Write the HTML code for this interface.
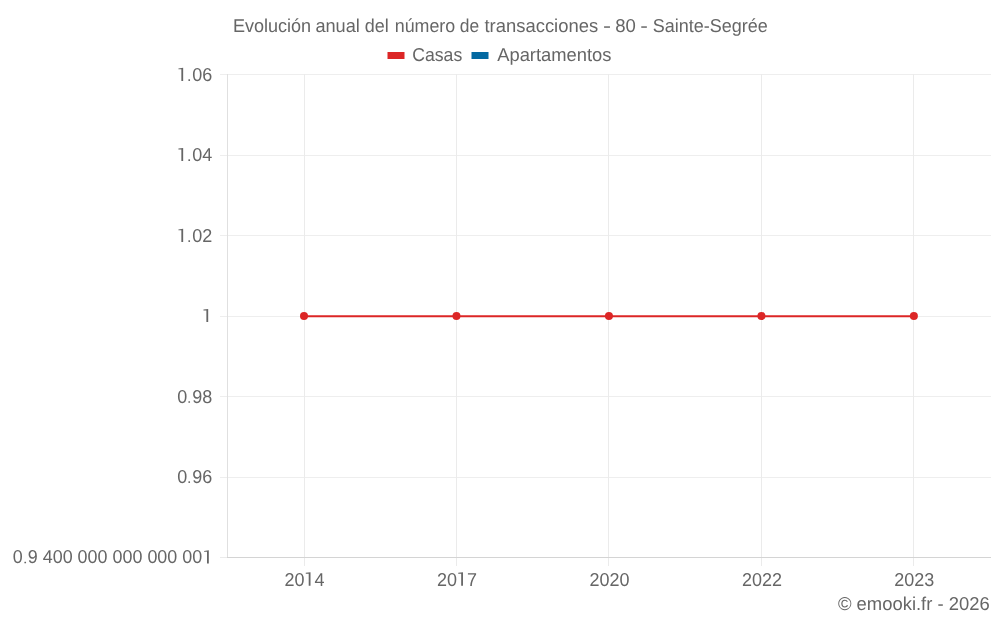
<!DOCTYPE html>
<html><head><meta charset="utf-8">
<style>
html,body{margin:0;padding:0;background:#fff;width:1000px;height:625px;overflow:hidden}
svg{display:block;will-change:transform}
text{font-family:"Liberation Sans",sans-serif;fill:#666;font-size:18.6px;text-rendering:geometricPrecision}
.o{fill-opacity:0;stroke-opacity:0}
</style></head>
<body>
<svg width="1000" height="625" viewBox="0 0 1000 625">
<g>
<line x1="220" y1="74.5" x2="991" y2="74.5" stroke="#eeeeee"/>
<line x1="220" y1="155.5" x2="991" y2="155.5" stroke="#eeeeee"/>
<line x1="220" y1="235.5" x2="991" y2="235.5" stroke="#eeeeee"/>
<line x1="220" y1="316.5" x2="991" y2="316.5" stroke="#eeeeee"/>
<line x1="220" y1="396.5" x2="991" y2="396.5" stroke="#eeeeee"/>
<line x1="220" y1="477.5" x2="991" y2="477.5" stroke="#eeeeee"/>
<line x1="304.5" y1="74" x2="304.5" y2="566" stroke="#ebebeb"/>
<line x1="456.5" y1="74" x2="456.5" y2="566" stroke="#ebebeb"/>
<line x1="608.5" y1="74" x2="608.5" y2="566" stroke="#ebebeb"/>
<line x1="761.5" y1="74" x2="761.5" y2="566" stroke="#ebebeb"/>
<line x1="913.5" y1="74" x2="913.5" y2="566" stroke="#ebebeb"/>
<line x1="220" y1="557.5" x2="227" y2="557.5" stroke="#ebebeb"/>
<line x1="227.5" y1="74" x2="227.5" y2="558" stroke="#e0e0e0"/>
<line x1="227" y1="557.5" x2="991" y2="557.5" stroke="#d4d4d4"/>
</g>
<g>
<line x1="304.00" y1="316.2" x2="913.88" y2="316.2" stroke="#dc2626" stroke-width="2"/>
<circle cx="304.00" cy="316.1" r="4.0" fill="#dc2626"/>
<circle cx="456.47" cy="316.1" r="4.0" fill="#dc2626"/>
<circle cx="608.94" cy="316.1" r="4.0" fill="#dc2626"/>
<circle cx="761.41" cy="316.1" r="4.0" fill="#dc2626"/>
<circle cx="913.88" cy="316.1" r="4.0" fill="#dc2626"/>
</g>
<g>
<text x="232.93" y="31.60" textLength="78.24" lengthAdjust="spacingAndGlyphs">Evolución</text>
<text x="315.38" y="31.60" textLength="44.44" lengthAdjust="spacingAndGlyphs">anual</text>
<text x="364.82" y="31.60" textLength="23.98" lengthAdjust="spacingAndGlyphs">del</text>
<text x="394.74" y="31.60" textLength="60.51" lengthAdjust="spacingAndGlyphs">número</text>
<text x="459.85" y="31.60" textLength="19.40" lengthAdjust="spacingAndGlyphs">de</text>
<text x="484.50" y="31.60" textLength="113.66" lengthAdjust="spacingAndGlyphs">transacciones</text>
<text x="602.94" y="31.60" textLength="8.05" lengthAdjust="spacingAndGlyphs">-</text>
<text x="615.15" y="31.60" textLength="20.64" lengthAdjust="spacingAndGlyphs">80</text>
<text x="640.39" y="31.60" textLength="7.64" lengthAdjust="spacingAndGlyphs">-</text>
<text x="652.86" y="31.60" textLength="114.98" lengthAdjust="spacingAndGlyphs">Sainte-Segrée</text>
<text x="412.19" y="61.20" textLength="50.03" lengthAdjust="spacingAndGlyphs">Casas</text>
<text x="497.20" y="61.20" textLength="114.29" lengthAdjust="spacingAndGlyphs">Apartamentos</text>
<text x="837.90" y="609.90" textLength="151.82" lengthAdjust="spacingAndGlyphs">© emooki.fr - 2026</text>
</g>
<g>
<rect x="387.5" y="52" width="17" height="7" fill="#dc2626"/>
<rect x="471.5" y="52" width="17" height="7" fill="#0369a1"/>
</g>
<g id="yl">
<text x="212.20" y="80.90" text-anchor="end" textLength="35.05" lengthAdjust="spacingAndGlyphs"><tspan class="o">1</tspan><tspan class="o">.</tspan>06</text>
<text x="212.20" y="161.00" text-anchor="end" textLength="35.05" lengthAdjust="spacingAndGlyphs"><tspan class="o">1</tspan><tspan class="o">.</tspan>04</text>
<text x="212.20" y="241.90" text-anchor="end" textLength="35.05" lengthAdjust="spacingAndGlyphs"><tspan class="o">1</tspan><tspan class="o">.</tspan>02</text>
<text x="212.20" y="322.00" text-anchor="end" textLength="10.02" lengthAdjust="spacingAndGlyphs"><tspan class="o">1</tspan></text>
<text x="212.20" y="402.90" text-anchor="end" textLength="35.05" lengthAdjust="spacingAndGlyphs">0<tspan class="o">.</tspan>98</text>
<text x="212.20" y="483.00" text-anchor="end" textLength="35.05" lengthAdjust="spacingAndGlyphs">0<tspan class="o">.</tspan>96</text>
<text x="212.20" y="563.40" text-anchor="end" textLength="199.40" lengthAdjust="spacingAndGlyphs">0<tspan class="o">.</tspan>9 400 000 000 000 00<tspan class="o">1</tspan></text>
</g>
<g id="xl">
<text x="304.50" y="585.8" text-anchor="middle" textLength="40.05" lengthAdjust="spacingAndGlyphs">20<tspan class="o">1</tspan>4</text>
<text x="456.97" y="585.8" text-anchor="middle" textLength="40.05" lengthAdjust="spacingAndGlyphs">20<tspan class="o">1</tspan>7</text>
<text x="609.44" y="585.8" text-anchor="middle" textLength="40.05" lengthAdjust="spacingAndGlyphs">2020</text>
<text x="761.91" y="585.8" text-anchor="middle" textLength="40.05" lengthAdjust="spacingAndGlyphs">2022</text>
<text x="914.38" y="585.8" text-anchor="middle" textLength="40.05" lengthAdjust="spacingAndGlyphs">2023</text>
</g>
<g fill="#666">
<path d="M181.36 80.90L183.16 80.90L183.16 67.80L178.41 68.40L178.41 69.30L181.36 69.30Z"/>
<rect x="188.39" y="79.23" width="1.65" height="1.65" rx="0.35"/>
<path d="M181.36 161.00L183.16 161.00L183.16 147.90L178.41 148.50L178.41 149.40L181.36 149.40Z"/>
<rect x="188.39" y="159.33" width="1.65" height="1.65" rx="0.35"/>
<path d="M181.36 241.90L183.16 241.90L183.16 228.80L178.41 229.40L178.41 230.30L181.36 230.30Z"/>
<rect x="188.39" y="240.23" width="1.65" height="1.65" rx="0.35"/>
<path d="M206.39 322.00L208.19 322.00L208.19 308.90L203.44 309.50L203.44 310.40L206.39 310.40Z"/>
<rect x="188.39" y="401.22" width="1.65" height="1.65" rx="0.35"/>
<rect x="188.39" y="481.32" width="1.65" height="1.65" rx="0.35"/>
<rect x="24.40" y="561.72" width="1.65" height="1.65" rx="0.35"/>
<path d="M207.01 563.40L208.81 563.40L208.81 550.30L204.06 550.90L204.06 551.80L207.01 551.80Z"/>
<path d="M308.71 585.80L310.51 585.80L310.51 572.20L305.76 572.80L305.76 573.70L308.71 573.70Z"/>
<path d="M461.18 585.80L462.98 585.80L462.98 572.20L458.23 572.80L458.23 573.70L461.18 573.70Z"/>
</g>
</svg>
</body></html>
